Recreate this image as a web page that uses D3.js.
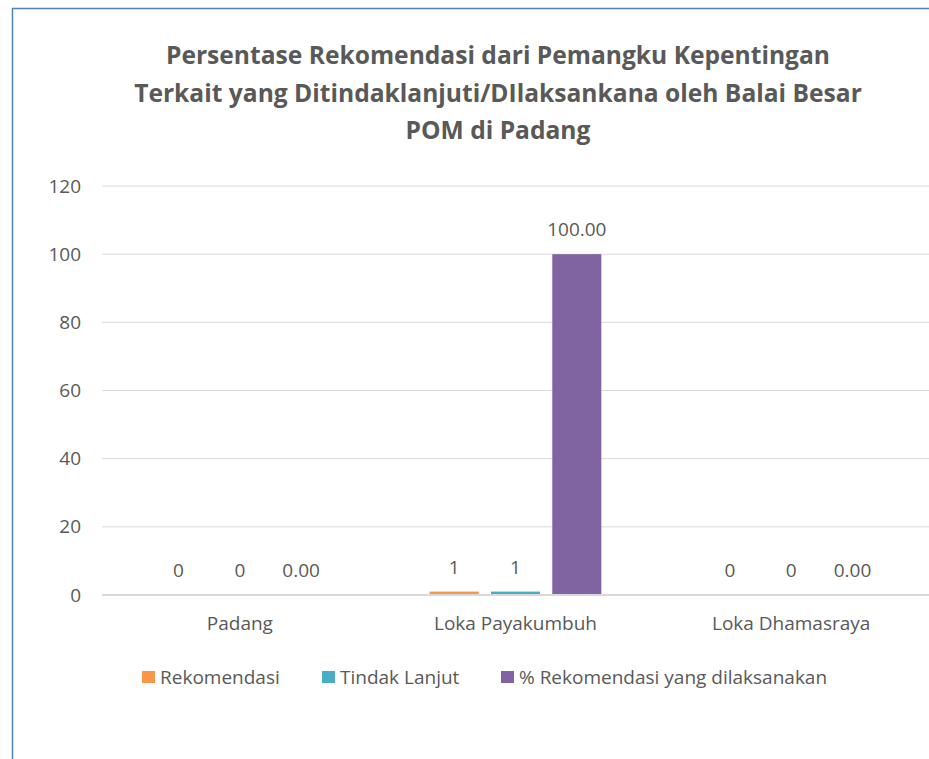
<!DOCTYPE html>
<html>
<head>
<meta charset="utf-8">
<script src="https://cdn.jsdelivr.net/npm/d3@7"></script>
<style>
  body { margin: 0; background: #fff; }
  svg text { font-family: "Open Sans", sans-serif; fill: #595959; }
</style>
</head>
<body>
<svg id="chart"></svg>
<script>
// Chart data
const categories = ['Padang', 'Loka Payakumbuh', 'Loka Dhamasraya'];
const seriesNames = ['Rekomendasi', 'Tindak Lanjut', '% Rekomendasi yang dilaksanakan'];
const rekomendasi = [0, 1, 0];
const tindakLanjut = [0, 1, 0];
const persenDilaksanakan = [0, 100, 0];
const yTicks = [0, 20, 40, 60, 80, 100, 120];
const titleLines = [
  'Persentase Rekomendasi dari Pemangku Kepentingan',
  'Terkait yang Ditindaklanjuti/DIlaksankana oleh Balai Besar',
  'POM di Padang'
];

const config = {
  width: 929,
  height: 759,
  margin: { top: 186, right: 0, bottom: 164, left: 102 },
  colors: ['#F79646', '#4BACC6', '#8064A2'],
  formats: [d3.format('d'), d3.format('d'), d3.format('.2f')],
  fontSize: '19px'
};

const series = [rekomendasi, tindakLanjut, persenDilaksanakan];

const svg = d3.select('#chart')
    .attr('width', config.width)
    .attr('height', config.height);

// chart border (left and top visible)
svg.append('rect')
    .attr('x', 12.5)
    .attr('y', 8.5)
    .attr('width', 940)
    .attr('height', 800)
    .attr('fill', 'none')
    .attr('stroke', '#4F81BD')
    .attr('stroke-width', 1.5);

// title
svg.append('g')
    .selectAll('text')
    .data(titleLines)
    .join('text')
    .attr('x', 498)
    .attr('y', (d, i) => 64 + i * 37.5)
    .attr('text-anchor', 'middle')
    .style('font-size', '24.6px')
    .style('font-weight', 700)
    .text(d => d);

const plotW = config.width - config.margin.left - config.margin.right;
const plotH = config.height - config.margin.top - config.margin.bottom;

const chart = svg.append('g')
    .attr('transform', `translate(${config.margin.left},${config.margin.top})`);

const x0 = d3.scaleBand()
    .domain(categories)
    .range([0, plotW])
    .padding(0);

const x1 = d3.scaleBand()
    .domain(d3.range(series.length))
    .range([52, x0.bandwidth() - 52])
    .paddingInner(0.2)
    .paddingOuter(0);

const y = d3.scaleLinear()
    .domain([0, 120])
    .range([plotH, 0]);

// grid lines
chart.append('g')
    .selectAll('line')
    .data(yTicks.filter(d => d > 0))
    .join('line')
    .attr('x1', 0)
    .attr('x2', plotW)
    .attr('y1', d => y(d))
    .attr('y2', d => y(d))
    .attr('stroke', '#d9d9d9')
    .attr('stroke-width', 1);

// y axis labels
const yAxis = chart.append('g')
    .call(d3.axisLeft(y).tickValues(yTicks).tickSize(0).tickPadding(21));
yAxis.select('.domain').remove();
yAxis.selectAll('text')
    .style('font-size', config.fontSize)
    .attr('fill', '#595959');

// bars
const groups = chart.selectAll('.group')
    .data(categories)
    .join('g')
    .attr('class', 'group')
    .attr('transform', d => `translate(${x0(d)},0)`);

groups.each(function(cat, ci) {
  const g = d3.select(this);
  series.forEach((vals, si) => {
    const v = vals[ci];
    g.append('rect')
        .attr('x', x1(si))
        .attr('y', y(v))
        .attr('width', x1.bandwidth())
        .attr('height', plotH - y(v))
        .attr('fill', config.colors[si]);
    g.append('text')
        .attr('x', x1(si) + x1.bandwidth() / 2)
        .attr('y', y(v) - 18)
        .attr('text-anchor', 'middle')
        .style('font-size', config.fontSize)
        .attr('fill', '#404040')
        .text(config.formats[si](v));
  });
});

// zero axis line
chart.append('line')
    .attr('x1', 0)
    .attr('x2', plotW)
    .attr('y1', plotH)
    .attr('y2', plotH)
    .attr('stroke', '#d9d9d9')
    .attr('stroke-width', 2);

// x axis labels
const xAxis = chart.append('g')
    .attr('transform', `translate(0,${plotH})`)
    .call(d3.axisBottom(x0).tickSize(0).tickPadding(22));
xAxis.select('.domain').remove();
xAxis.selectAll('text')
    .style('font-size', config.fontSize)
    .attr('fill', '#595959');

// legend
const legendX = [142, 322, 501];
const legend = svg.append('g')
    .selectAll('g')
    .data(seriesNames)
    .join('g')
    .attr('transform', (d, i) => `translate(${legendX[i]},671)`);

legend.append('rect')
    .attr('width', 13)
    .attr('height', 12)
    .attr('fill', (d, i) => config.colors[i]);

legend.append('text')
    .attr('x', 18)
    .attr('y', 13)
    .style('font-size', config.fontSize)
    .text(d => d);
</script>
</body>
</html>
